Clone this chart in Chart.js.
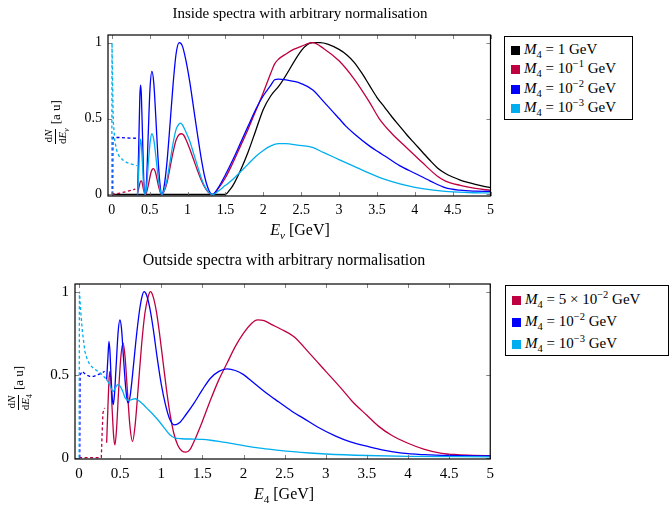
<!DOCTYPE html>
<html>
<head>
<meta charset="utf-8">
<script src="https://cdn.jsdelivr.net/npm/chart.js@4/dist/chart.umd.min.js"></script>
<style>
  body { margin: 0; background: #fff; width: 670px; height: 506px; overflow: hidden; position: relative; font-family: "Liberation Serif", serif; color: #000; }
  canvas { position: absolute; left: 0; }
  .txt { position: absolute; white-space: nowrap; line-height: 1; }
  .title { font-size: 15px; transform: translateX(-50%); }
  .xlab { font-size: 16px; transform: translateX(-50%); }
  .ylab { display: flex; align-items: center; justify-content: center; transform: rotate(-90deg); font-size: 13px; }
  .frac { display: inline-flex; flex-direction: column; align-items: center; font-size: 11px; margin-right: 4px; }
  .frac .num { border-bottom: 0.8px solid #000; padding: 0 1px 1px; }
  .frac .den { padding-top: 1px; }
  .legend { position: absolute; border: 1px solid #000; background: #fff; box-sizing: border-box; }
  .legend .row { position: absolute; left: 6px; font-size: 15px; line-height: 18px; white-space: nowrap; }
  .legend .sw { display: inline-block; width: 9px; height: 9px; margin-right: 4px; vertical-align: -1px; }
  sub, sup { font-size: 70%; line-height: 0; }
</style>
</head>
<body>
<canvas id="top" width="500" height="250" style="top:0"></canvas>
<canvas id="bottom" width="500" height="256" style="top:250px"></canvas>

<div class="txt title" style="left:300px; top:6px;">Inside spectra with arbitrary normalisation</div>
<div class="txt xlab" style="left:300px; top:222px;"><i>E</i><sub><i>ν</i></sub> [GeV]</div>
<div class="txt ylab" style="left:15px; top:110px; width:80px; height:24px;"><span class="frac"><span class="num">d<i>N</i></span><span class="den">d<i>E</i><sub><i>ν</i></sub></span></span>[a u]</div>

<div class="txt title" style="left:284px; top:252px; font-size:16px;">Outside spectra with arbitrary normalisation</div>
<div class="txt xlab" style="left:284px; top:486px;"><i>E</i><sub>4</sub> [GeV]</div>
<div class="txt ylab" style="left:-22px; top:376px; width:80px; height:24px;"><span class="frac"><span class="num">d<i>N</i></span><span class="den">d<i>E</i><sub>4</sub></span></span>[a u]</div>

<div class="legend" style="left:504px; top:36px; width:129px; height:84px;">
  <div class="row" style="top:3px;"><span class="sw" style="background:#000"></span><i>M</i><sub>4</sub> = 1 GeV</div>
  <div class="row" style="top:22px;"><span class="sw" style="background:#bf0040"></span><i>M</i><sub>4</sub> = 10<sup>−1</sup> GeV</div>
  <div class="row" style="top:42px;"><span class="sw" style="background:#0000ff"></span><i>M</i><sub>4</sub> = 10<sup>−2</sup> GeV</div>
  <div class="row" style="top:61px;"><span class="sw" style="background:#00aeef"></span><i>M</i><sub>4</sub> = 10<sup>−3</sup> GeV</div>
</div>
<div class="legend" style="left:505px; top:285px; width:164px; height:71px;">
  <div class="row" style="top:4px;"><span class="sw" style="background:#bf0040"></span><i>M</i><sub>4</sub> = 5 × 10<sup>−2</sup> GeV</div>
  <div class="row" style="top:26px;"><span class="sw" style="background:#0000ff"></span><i>M</i><sub>4</sub> = 10<sup>−2</sup> GeV</div>
  <div class="row" style="top:48px;"><span class="sw" style="background:#00aeef"></span><i>M</i><sub>4</sub> = 10<sup>−3</sup> GeV</div>
</div>

<script>
// tick labels
const xTicks = [0, 0.5, 1, 1.5, 2, 2.5, 3, 3.5, 4, 4.5, 5]
const yTicks = [0, 0.5, 1]

// colours
const BLACK = '#000000', RED = '#bf0040', BLUE = '#0000ff', CYAN = '#00aeef'

// ---- Inside spectra (top) ----
const inBlackX = [0, 1.5, 1.55, 1.6, 1.7, 1.8, 1.9, 2.0, 2.1, 2.2, 2.65, 2.75, 2.85, 3.0, 3.1, 3.2, 3.3, 3.4, 3.5, 3.6, 3.7, 3.8, 3.9, 4.0, 4.1, 4.2, 4.3, 4.4, 4.5, 4.6, 4.7, 4.8, 4.9, 5]
const inBlackY = [0, 0, 0.025, 0.06, 0.16, 0.28, 0.42, 0.56, 0.65, 0.71, 1.0, 1.0, 0.99, 0.955, 0.92, 0.87, 0.8, 0.72, 0.64, 0.575, 0.51, 0.45, 0.39, 0.335, 0.28, 0.225, 0.175, 0.14, 0.115, 0.095, 0.08, 0.067, 0.055, 0.045]

const inRedDashX = [0, 0.1, 0.2, 0.31]
const inRedDashY = [0, 0.008, 0.02, 0.036]
const inRedX = [0.34, 0.36, 0.38, 0.39, 0.40, 0.42, 0.44, 0.46, 0.49, 0.52, 0.55, 0.58, 0.61, 0.64, 0.66, 0.69, 0.73, 0.77, 0.81, 0.85, 0.89, 0.92, 0.95, 0.98, 1.03, 1.08, 1.13, 1.18, 1.23, 1.28, 1.33, 1.4, 1.5, 1.6, 1.7, 1.8, 1.9, 2.0, 2.1, 2.15, 2.2, 2.3, 2.4, 2.5, 2.65, 2.8, 3.0, 3.2, 3.4, 3.53, 3.7, 3.9, 4.1, 4.3, 4.4, 4.6, 4.8, 5]
const inRedY = [0.01, 0.05, 0.088, 0.09, 0.08, 0.03, 0, 0.015, 0.08, 0.15, 0.17, 0.14, 0.07, 0.015, 0, 0.02, 0.08, 0.18, 0.28, 0.36, 0.395, 0.40, 0.39, 0.36, 0.30, 0.23, 0.16, 0.095, 0.045, 0.012, 0, 0.035, 0.11, 0.21, 0.32, 0.43, 0.55, 0.67, 0.80, 0.86, 0.89, 0.925, 0.955, 0.975, 1.0, 0.96, 0.88, 0.76, 0.61, 0.5, 0.4, 0.305, 0.21, 0.12, 0.09, 0.06, 0.04, 0.027]

const inBlueDashX = [0.012, 0.015, 0.1, 0.2, 0.33]
const inBlueDashY = [0, 0.375, 0.375, 0.372, 0.37]
const inBlueX = [0.34, 0.355, 0.37, 0.38, 0.39, 0.405, 0.42, 0.44, 0.46, 0.48, 0.505, 0.53, 0.555, 0.58, 0.61, 0.64, 0.66, 0.69, 0.73, 0.77, 0.81, 0.85, 0.89, 0.93, 0.98, 1.03, 1.08, 1.13, 1.18, 1.23, 1.28, 1.33, 1.4, 1.5, 1.6, 1.7, 1.8, 1.9, 2.0, 2.1, 2.15, 2.2, 2.3, 2.4, 2.5, 2.65, 2.8, 3.0, 3.09, 3.2, 3.4, 3.53, 3.6, 3.8, 4.0, 4.2, 4.4, 4.6, 4.8, 5]
const inBlueY = [0, 0.30, 0.64, 0.72, 0.66, 0.40, 0.12, 0, 0.10, 0.38, 0.70, 0.81, 0.73, 0.52, 0.24, 0.05, 0, 0.05, 0.22, 0.47, 0.73, 0.93, 1.0, 0.98, 0.88, 0.74, 0.57, 0.40, 0.24, 0.11, 0.03, 0, 0.04, 0.13, 0.23, 0.34, 0.45, 0.56, 0.65, 0.72, 0.755, 0.76, 0.755, 0.745, 0.73, 0.69, 0.61, 0.50, 0.45, 0.40, 0.32, 0.277, 0.255, 0.19, 0.14, 0.09, 0.045, 0.028, 0.022, 0.02]

const inCyanDashX = [0, 0.003, 0.01, 0.02, 0.04, 0.07, 0.1, 0.15, 0.2, 0.26, 0.33]
const inCyanDashY = [0, 1.0, 0.75, 0.48, 0.35, 0.28, 0.25, 0.225, 0.21, 0.2, 0.19]
const inCyanX = [0.34, 0.355, 0.37, 0.38, 0.39, 0.405, 0.42, 0.44, 0.46, 0.48, 0.505, 0.53, 0.555, 0.58, 0.61, 0.64, 0.66, 0.69, 0.73, 0.77, 0.81, 0.85, 0.89, 0.91, 0.93, 0.98, 1.03, 1.08, 1.13, 1.18, 1.23, 1.28, 1.33, 1.4, 1.5, 1.6, 1.7, 1.8, 1.9, 2.0, 2.1, 2.2, 2.3, 2.45, 2.65, 2.8, 3.0, 3.2, 3.4, 3.53, 3.7, 3.9, 4.1, 4.4, 4.7, 5]
const inCyanY = [0, 0.15, 0.32, 0.365, 0.33, 0.20, 0.06, 0, 0.05, 0.19, 0.34, 0.40, 0.36, 0.26, 0.12, 0.025, 0, 0.025, 0.10, 0.22, 0.34, 0.43, 0.465, 0.47, 0.46, 0.41, 0.35, 0.27, 0.19, 0.11, 0.05, 0.014, 0, 0.02, 0.06, 0.10, 0.15, 0.20, 0.25, 0.29, 0.32, 0.335, 0.335, 0.325, 0.31, 0.275, 0.23, 0.185, 0.14, 0.113, 0.085, 0.058, 0.038, 0.02, 0.013, 0.01]

// ---- Outside spectra (bottom) ----
const outRedDashX = [0, 0.27, 0.28, 0.29, 0.31]
const outRedDashY = [0, 0, 0.15, 0.27, 0.30]
const outRedX = [0.335, 0.35, 0.365, 0.375, 0.385, 0.40, 0.42, 0.436, 0.455, 0.48, 0.51, 0.536, 0.56, 0.59, 0.62, 0.65, 0.68, 0.72, 0.76, 0.8, 0.84, 0.868, 0.9, 0.94, 0.98, 1.02, 1.06, 1.1, 1.15, 1.2, 1.25, 1.3, 1.35, 1.4, 1.5, 1.6, 1.7, 1.8, 1.9, 2.0, 2.1, 2.17, 2.25, 2.35, 2.45, 2.61, 2.8, 3.0, 3.2, 3.32, 3.5, 3.64, 3.8, 4.0, 4.2, 4.41, 4.6, 4.8, 5]
const outRedY = [0.09, 0.3, 0.48, 0.52, 0.47, 0.31, 0.13, 0.077, 0.17, 0.4, 0.62, 0.69, 0.6, 0.38, 0.18, 0.097, 0.19, 0.43, 0.68, 0.87, 0.97, 1.0, 0.97, 0.88, 0.74, 0.58, 0.42, 0.28, 0.15, 0.075, 0.04, 0.033, 0.05, 0.1, 0.22, 0.35, 0.47, 0.57, 0.67, 0.75, 0.81, 0.83, 0.825, 0.80, 0.775, 0.73, 0.63, 0.52, 0.41, 0.34, 0.255, 0.19, 0.135, 0.087, 0.05, 0.026, 0.018, 0.014, 0.012]

const outBlueDashX = [0.008, 0.012, 0.04, 0.08, 0.13, 0.18, 0.23, 0.28, 0.31]
const outBlueDashY = [0, 0.5, 0.52, 0.5, 0.49, 0.49, 0.5, 0.51, 0.52]
const outBlueX = [0.335, 0.35, 0.363, 0.375, 0.39, 0.405, 0.415, 0.43, 0.45, 0.475, 0.496, 0.515, 0.54, 0.565, 0.585, 0.597, 0.62, 0.65, 0.69, 0.73, 0.76, 0.79, 0.82, 0.86, 0.9, 0.95, 1.0, 1.05, 1.1, 1.16, 1.22, 1.3, 1.4, 1.5, 1.6, 1.7, 1.8, 1.9, 2.0, 2.1, 2.2, 2.31, 2.43, 2.6, 2.72, 2.9, 3.12, 3.3, 3.52, 3.7, 3.93, 4.2, 4.5, 5]
const outBlueY = [0.47, 0.6, 0.70, 0.64, 0.47, 0.35, 0.32, 0.38, 0.55, 0.76, 0.83, 0.78, 0.6, 0.43, 0.345, 0.33, 0.37, 0.5, 0.7, 0.87, 0.96, 1.0, 0.98, 0.9, 0.78, 0.6, 0.44, 0.32, 0.235, 0.197, 0.21, 0.26, 0.33, 0.41, 0.48, 0.52, 0.535, 0.525, 0.5, 0.46, 0.42, 0.377, 0.335, 0.275, 0.24, 0.185, 0.13, 0.095, 0.066, 0.045, 0.027, 0.018, 0.013, 0.01]

const outCyanDashX = [0, 0.004, 0.02, 0.04, 0.07, 0.1, 0.13, 0.18, 0.23, 0.28, 0.335]
const outCyanDashY = [0, 1.0, 0.88, 0.76, 0.64, 0.59, 0.56, 0.535, 0.52, 0.5, 0.47]
const outCyanX = [0.335, 0.36, 0.38, 0.40, 0.415, 0.44, 0.47, 0.5, 0.53, 0.56, 0.597, 0.64, 0.68, 0.72, 0.77, 0.82, 0.9, 0.98, 1.05, 1.1, 1.16, 1.25, 1.4, 1.5, 1.6, 1.7, 1.8, 1.9, 2.0, 2.2, 2.4, 2.6, 2.8, 3.0, 3.5, 4.0, 5]
const outCyanY = [0.47, 0.45, 0.43, 0.405, 0.40, 0.42, 0.44, 0.43, 0.4, 0.36, 0.345, 0.35, 0.355, 0.345, 0.325, 0.30, 0.26, 0.215, 0.17, 0.14, 0.12, 0.114, 0.112, 0.11, 0.105, 0.098, 0.09, 0.081, 0.072, 0.057, 0.046, 0.036, 0.028, 0.022, 0.013, 0.008, 0.005]

const pts = (xs, ys) => xs.map((x, i) => ({ x, y: ys[i] }))

function solid(xs, ys, color) {
	return { data: pts(xs, ys), borderColor: color, borderWidth: 1.3, pointRadius: 0, cubicInterpolationMode: 'monotone', fill: false }
}
function dashed(xs, ys, color) {
	return { data: pts(xs, ys), borderColor: color, borderWidth: 1.3, pointRadius: 0, borderDash: [3, 2.5], tension: 0, fill: false }
}

// box round the plot area and the small inward ticks on all four sides
const framePlugin = {
	id: 'frame',
	afterDatasetsDraw(chart) {
		const { ctx, chartArea: a, scales: { x, y } } = chart
		ctx.save()
		ctx.strokeStyle = '#666'
		ctx.lineWidth = 0.8
		ctx.beginPath()
		x.ticks.forEach(t => {
			const px = Math.round(x.getPixelForValue(t.value)) + 0.5
			ctx.moveTo(px, a.bottom); ctx.lineTo(px, a.bottom - 4)
			ctx.moveTo(px, a.top); ctx.lineTo(px, a.top + 4)
		})
		y.ticks.forEach(t => {
			const py = Math.round(y.getPixelForValue(t.value)) + 0.5
			ctx.moveTo(a.left, py); ctx.lineTo(a.left + 4, py)
			ctx.moveTo(a.right, py); ctx.lineTo(a.right - 4, py)
		})
		ctx.stroke()
		ctx.strokeStyle = '#000'
		ctx.lineWidth = 1.2
		ctx.strokeRect(a.left, a.top, a.right - a.left, a.bottom - a.top)
		ctx.restore()
	}
}

function makeChart(canvas, datasets, opt) {
	return new Chart(canvas, {
		type: 'line',
		data: { datasets },
		options: {
			responsive: false,
			animation: false,
			events: [],
			layout: { padding: { left: 0, right: opt.right, top: opt.top, bottom: 0 } },
			plugins: { legend: { display: false }, tooltip: { enabled: false } },
			scales: {
				x: {
					type: 'linear', min: -0.05, max: 5,
					grid: { display: false, drawTicks: false }, border: { display: false },
					afterBuildTicks: s => { s.ticks = xTicks.map(v => ({ value: v })) },
					afterFit: s => { s.height = opt.xh },
					ticks: { padding: 6, maxRotation: 0, autoSkip: false, color: '#000', font: { family: 'Liberation Serif', size: opt.fs }, callback: v => String(v) }
				},
				y: {
					type: 'linear', min: opt.ymin, max: opt.ymax,
					grid: { display: false, drawTicks: false }, border: { display: false },
					afterBuildTicks: s => { s.ticks = yTicks.map(v => ({ value: v })) },
					afterFit: s => { s.width = opt.yw },
					ticks: { padding: 6, color: '#000', font: { family: 'Liberation Serif', size: opt.fs }, callback: v => String(v) }
				}
			}
		},
		plugins: [framePlugin]
	})
}

makeChart(document.getElementById('top'), [
	solid(inCyanX, inCyanY, CYAN),
	dashed(inCyanDashX, inCyanDashY, CYAN),
	solid(inBlueX, inBlueY, BLUE),
	dashed(inBlueDashX, inBlueDashY, BLUE),
	solid(inRedX, inRedY, RED),
	dashed(inRedDashX, inRedDashY, RED),
	solid(inBlackX, inBlackY, BLACK)
], { right: 8, top: 35, xh: 54, yw: 108, ymin: -0.01, ymax: 1.05, fs: 14 })

makeChart(document.getElementById('bottom'), [
	solid(outCyanX, outCyanY, CYAN),
	dashed(outCyanDashX, outCyanDashY, CYAN),
	solid(outBlueX, outBlueY, BLUE),
	dashed(outBlueDashX, outBlueDashY, BLUE),
	solid(outRedX, outRedY, RED),
	dashed(outRedDashX, outRedDashY, RED)
], { right: 8, top: 34, xh: 47, yw: 75, ymin: -0.008, ymax: 1.046, fs: 15 })
</script>
</body>
</html>
